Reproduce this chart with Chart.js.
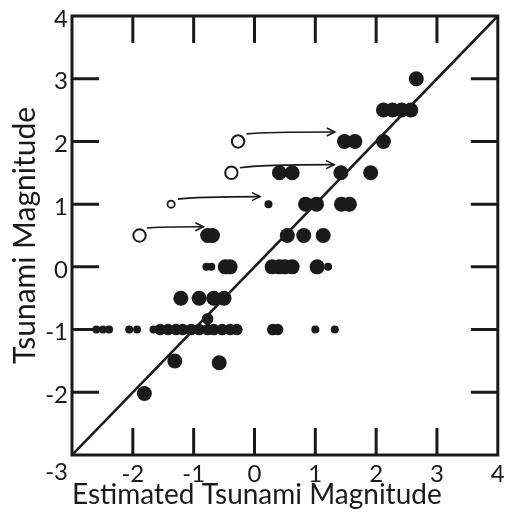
<!DOCTYPE html>
<html lang="en">
<head>
<meta charset="UTF-8">
<title>Tsunami Magnitude vs Estimated Tsunami Magnitude</title>
<script src="https://cdn.jsdelivr.net/npm/chart.js@4.4.1/dist/chart.umd.min.js"></script>
<style>
  html, body { margin: 0; padding: 0; background: #fff; }
  #wrap { position: relative; width: 506px; height: 512px; }
</style>
</head>
<body>
<div id="wrap"><canvas id="chart"></canvas></div>
<script>
// axis values (both axes run -3..4)
const tickValues = [-3, -2, -1, 0, 1, 2, 3, 4];

const largeDots = [
  [2.66, 3],
  [2.12, 2.5], [2.27, 2.5], [2.42, 2.5], [2.57, 2.5],
  [1.48, 2], [1.65, 2], [2.12, 2],
  [0.41, 1.5], [0.62, 1.5], [1.42, 1.5], [1.91, 1.5],
  [0.84, 1], [1.02, 1], [1.43, 1], [1.56, 1],
  [-0.77, 0.5], [-0.69, 0.5], [0.54, 0.5], [0.81, 0.5], [1.13, 0.5],
  [-0.48, 0], [-0.40, 0], [0.29, 0], [0.41, 0], [0.50, 0], [0.62, 0], [1.03, 0],
  [-1.21, -0.5], [-0.91, -0.5], [-0.67, -0.5], [-0.50, -0.5],
  [-1.31, -1.5], [-0.58, -1.53],
  [-1.81, -2.02]
];
const mediumDots = [
  [-1.55, -1], [-1.42, -1], [-1.29, -1], [-1.18, -1], [-1.04, -1],
  [-0.91, -1], [-0.77, -1], [-0.67, -1], [-0.53, -1], [-0.40, -1],
  [-0.29, -1], [0.30, -1], [0.38, -1], [-0.77, -0.83]
];
const smallDots = [
  [-2.60, -1], [-2.49, -1], [-2.39, -1], [-2.06, -1], [-1.93, -1], [-1.66, -1],
  [1.00, -1], [1.32, -1],
  [0.23, 1],
  [-0.79, 0], [-0.71, 0], [1.21, 0]
];
const openDots = [[-0.27, 2], [-0.38, 1.5], [-1.89, 0.5]];
const openSmallDots = [[-1.37, 1]];

// arrows from the open circles to their revised values
const arrowFrom = [[-0.13, 2.12], [-0.24, 1.58], [-1.26, 1.08], [-1.77, 0.62]];
const arrowTo = [[1.32, 2.15], [1.31, 1.63], [0.09, 1.12], [-0.84, 0.64]];

// 1:1 reference line
const diagonal = [[-3, -3], [4, 4]];

const ink = '#1a1a1a';
const font = 'Lato, "Open Sans", sans-serif';
const toPts = arr => arr.map(p => ({ x: p[0], y: p[1] }));

// box with inward tick marks on all four sides, plus the arrows
const frame = {
  id: 'frame',
  beforeDatasetsDraw(chart) {
    const { ctx, chartArea: a, scales: { x, y } } = chart;
    const len = 27;
    ctx.save();
    ctx.strokeStyle = ink;
    ctx.lineWidth = 3;
    ctx.strokeRect(a.left, a.top, a.right - a.left, a.bottom - a.top);
    ctx.beginPath();
    tickValues.slice(1, -1).forEach(v => {
      const px = x.getPixelForValue(v);
      ctx.moveTo(px, a.bottom); ctx.lineTo(px, a.bottom - len);
      ctx.moveTo(px, a.top); ctx.lineTo(px, a.top + len);
      const py = y.getPixelForValue(v);
      ctx.moveTo(a.left, py); ctx.lineTo(a.left + len, py);
      ctx.moveTo(a.right, py); ctx.lineTo(a.right - len, py);
    });
    ctx.stroke();
    ctx.restore();
  },
  afterDatasetsDraw(chart) {
    const { ctx, scales: { x, y } } = chart;
    ctx.save();
    ctx.strokeStyle = ink;
    ctx.lineWidth = 1.6;
    arrowFrom.forEach((s, i) => {
      const e = arrowTo[i];
      const x0 = x.getPixelForValue(s[0]), y0 = y.getPixelForValue(s[1]);
      const x1 = x.getPixelForValue(e[0]), y1 = y.getPixelForValue(e[1]);
      ctx.beginPath();
      ctx.moveTo(x0, y0);
      ctx.quadraticCurveTo(x0 + (x1 - x0) * 0.2, y1, x1, y1);
      ctx.stroke();
      ctx.beginPath();
      ctx.moveTo(x1 - 8, y1 - 4);
      ctx.lineTo(x1, y1);
      ctx.lineTo(x1 - 8, y1 + 4);
      ctx.stroke();
    });
    ctx.restore();
  }
};

const dots = (data, r) => ({
  data: toPts(data), pointRadius: r, pointHoverRadius: r,
  backgroundColor: ink, borderWidth: 0
});
const rings = (data, r, w) => ({
  data: toPts(data), pointRadius: r, pointHoverRadius: r,
  backgroundColor: '#fff', borderColor: ink, borderWidth: w
});

new Chart(document.getElementById('chart'), {
  type: 'scatter',
  data: {
    datasets: [
      dots(largeDots, 7.5),
      dots(mediumDots, 5.8),
      dots(smallDots, 4),
      rings(openDots, 6.2, 2),
      rings(openSmallDots, 3.6, 1.8),
      {
        type: 'line', data: toPts(diagonal), showLine: true,
        borderColor: ink, borderWidth: 2.6, pointRadius: 0, order: 10
      }
    ]
  },
  options: {
    responsive: true,
    maintainAspectRatio: false,
    animation: false,
    layout: { padding: { left: 0, right: 3, top: 16, bottom: 0 } },
    plugins: { legend: { display: false }, tooltip: { enabled: false } },
    scales: {
      x: {
        type: 'linear', min: -3, max: 4,
        grid: { display: false, drawTicks: false },
        border: { display: false },
        ticks: {
          stepSize: 1, padding: 5, color: ink,
          font: { family: font, size: 24 },
          callback: v => (v === -3 ? '' : String(v))
        },
        title: {
          display: true, text: 'Estimated Tsunami Magnitude', align: 'start',
          color: ink, font: { family: font, size: 28 }, padding: { top: 0, bottom: 0 }
        },
        afterFit: s => { s.height = 57; s.paddingLeft = 0; s.paddingRight = 0; }
      },
      y: {
        type: 'linear', min: -3, max: 4,
        grid: { display: false, drawTicks: false },
        border: { display: false },
        ticks: {
          stepSize: 1, padding: 4, color: ink, labelOffset: 3,
          font: { family: font, size: 24 },
          callback: v => (v === -3 ? ['', '-3'] : String(v))
        },
        title: {
          display: true, text: 'Tsunami Magnitude',
          color: ink, font: { family: font, size: 30 }, padding: { top: 7, bottom: 0 }
        },
        afterFit: s => { s.width = 72; s.paddingTop = 0; s.paddingBottom = 0; }
      }
    }
  },
  plugins: [frame]
});
</script>
</body>
</html>
